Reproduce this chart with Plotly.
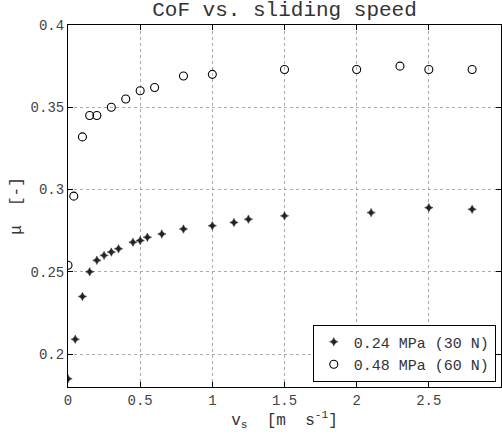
import plotly.graph_objects as go

# 0.24 MPa (30 N)
x30 = [0.0, 0.05, 0.1, 0.15, 0.2, 0.25, 0.3, 0.35, 0.45, 0.5, 0.55, 0.65, 0.8, 1.0, 1.15, 1.25, 1.5, 2.1, 2.5, 2.8]
y30 = [0.185, 0.209, 0.235, 0.250, 0.257, 0.260, 0.262, 0.264, 0.268, 0.269, 0.271, 0.273, 0.276, 0.278, 0.280, 0.282, 0.284, 0.286, 0.289, 0.288]

# 0.48 MPa (60 N)
x60 = [0.0, 0.04, 0.1, 0.15, 0.2, 0.3, 0.4, 0.5, 0.6, 0.8, 1.0, 1.5, 2.0, 2.3, 2.5, 2.8]
y60 = [0.254, 0.296, 0.332, 0.345, 0.345, 0.350, 0.355, 0.360, 0.362, 0.369, 0.370, 0.373, 0.373, 0.375, 0.373, 0.373]

xticks = [0, 0.5, 1, 1.5, 2, 2.5, 3]
xticklabels = ["0", "0.5", "1", "1.5", "2", "2.5", "3"]
yticks = [0.2, 0.25, 0.3, 0.35, 0.4]
yticklabels = ["0.2", "0.25", "0.3", "0.35", "0.4"]

FONT = "Liberation Mono, Courier New, monospace"

fig = go.Figure()
fig.add_trace(go.Scatter(
    x=x30, y=y30, mode="markers", name="0.24 MPa (30 N)",
    marker=dict(symbol="star-diamond", size=6, color="#222222",
                line=dict(width=0.5, color="#222222")),
))
fig.add_trace(go.Scatter(
    x=x60, y=y60, mode="markers", name="0.48 MPa (60 N)",
    marker=dict(symbol="circle-open", size=8, color="black",
                line=dict(width=1.1, color="black")),
))

axis_common = dict(
    showline=True, linecolor="black", linewidth=1, mirror="allticks",
    ticks="inside", ticklen=5, tickcolor="black",
    showgrid=True, gridcolor="#aaaaaa", griddash="dot", gridwidth=1,
    zeroline=False,
    tickfont=dict(family=FONT, size=14, color="#444444"),
)

fig.update_xaxes(
    range=[0, 3], tickvals=xticks, ticktext=xticklabels,
    title=dict(text="v<sub>s</sub>  [m  s<sup>-1</sup>]",
               font=dict(family=FONT, size=16, color="#333333"), standoff=4),
    **axis_common,
)
fig.update_yaxes(
    range=[0.18, 0.4], tickvals=yticks, ticktext=yticklabels,
    title=dict(text="μ  [-]", font=dict(family=FONT, size=16, color="#333333"), standoff=4),
    **axis_common,
)

fig.update_layout(
    width=502, height=435,
    margin=dict(l=68, r=1, t=25, b=48),
    paper_bgcolor="white", plot_bgcolor="white",
    title=dict(text="CoF vs. sliding speed", x=0.5, xanchor="center",
               xref="paper", y=0.998, yanchor="top",
               font=dict(family=FONT, size=21, color="#333333")),
    legend=dict(x=0.988, y=0.015, xanchor="right", yanchor="bottom",
                bgcolor="white", bordercolor="black", borderwidth=1,
                font=dict(family=FONT, size=15, color="#333333"),
                itemsizing="trace", tracegroupgap=0),
    showlegend=True,
)

fig.write_html("out.html")
